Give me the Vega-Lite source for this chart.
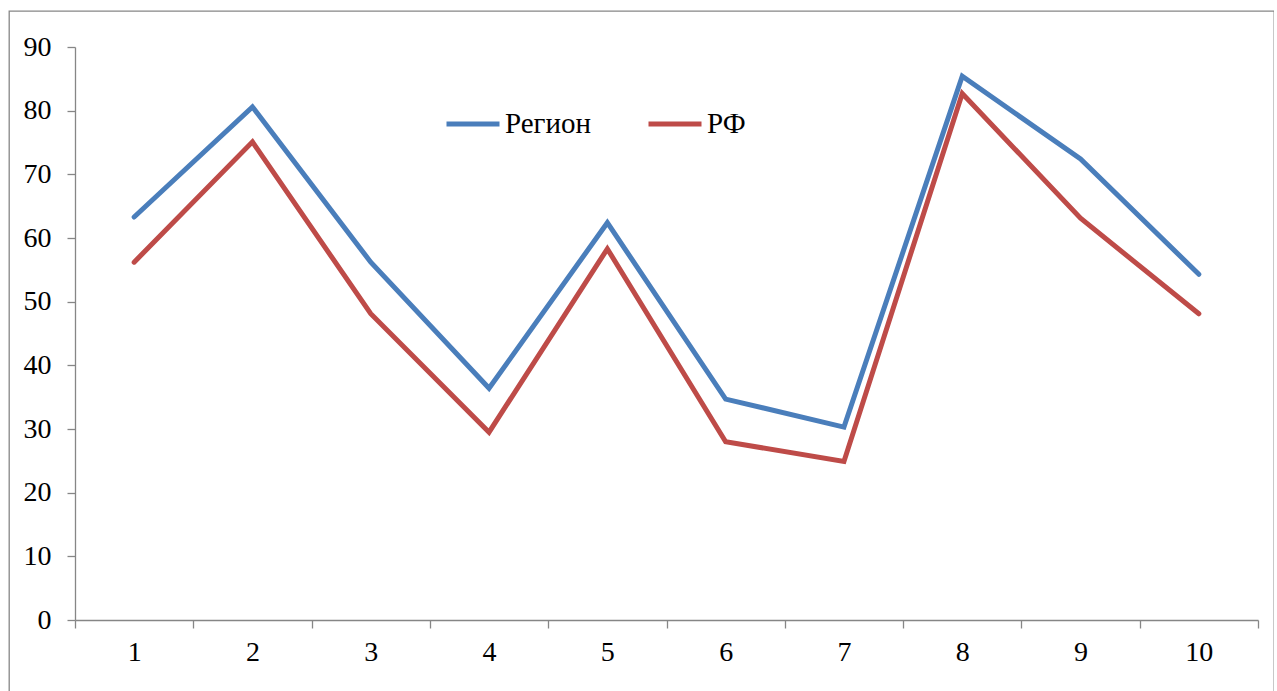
{
  "$schema": "https://vega.github.io/schema/vega-lite/v6.json",
  "autosize": "none",
  "padding": {"left": 9, "top": 11, "right": 0, "bottom": 0},
  "width": 1265,
  "height": 690,
  "background": "white",
  "config": {
    "view": {"stroke": "#868686", "strokeWidth": 1.3},
    "font": "'Liberation Serif', 'Times New Roman', 'DejaVu Serif', serif"
  },
  "data": {
    "values": [
      {"n": 1, "series": "Регион", "value": 63.3},
      {"n": 2, "series": "Регион", "value": 80.6},
      {"n": 3, "series": "Регион", "value": 56.2},
      {"n": 4, "series": "Регион", "value": 36.4},
      {"n": 5, "series": "Регион", "value": 62.4},
      {"n": 6, "series": "Регион", "value": 34.7},
      {"n": 7, "series": "Регион", "value": 30.3},
      {"n": 8, "series": "Регион", "value": 85.4},
      {"n": 9, "series": "Регион", "value": 72.4},
      {"n": 10, "series": "Регион", "value": 54.3},
      {"n": 1, "series": "РФ", "value": 56.2},
      {"n": 2, "series": "РФ", "value": 75.1},
      {"n": 3, "series": "РФ", "value": 48.1},
      {"n": 4, "series": "РФ", "value": 29.5},
      {"n": 5, "series": "РФ", "value": 58.3},
      {"n": 6, "series": "РФ", "value": 28.0},
      {"n": 7, "series": "РФ", "value": 24.9},
      {"n": 8, "series": "РФ", "value": 82.7},
      {"n": 9, "series": "РФ", "value": 63.1},
      {"n": 10, "series": "РФ", "value": 48.1}
    ]
  },
  "mark": {"type": "line", "strokeWidth": 5, "strokeCap": "round"},
  "encoding": {
    "x": {
      "field": "n",
      "type": "quantitative",
      "scale": {"domain": [0.5, 10.5], "range": [66, 1249], "nice": false, "zero": false},
      "axis": {
        "title": null,
        "orient": "bottom",
        "offset": -81,
        "values": [0.5, 1.5, 2.5, 3.5, 4.5, 5.5, 6.5, 7.5, 8.5, 9.5, 10.5],
        "labelExpr": "datum.value < 10 ? format(datum.value + 0.5, 'd') : ''",
        "labelOffset": 59.15,
        "labelFlush": false,
        "labelBound": false,
        "labelOverlap": false,
        "labelFont": "'Liberation Serif', 'Times New Roman', 'DejaVu Serif', serif",
        "labelFontSize": 28,
        "labelColor": "black",
        "labelPadding": 10,
        "tickSize": 8,
        "tickColor": "#868686",
        "tickWidth": 1.3,
        "domainColor": "#868686",
        "domainWidth": 1.3,
        "grid": false
      }
    },
    "y": {
      "field": "value",
      "type": "quantitative",
      "scale": {"domain": [0, 90], "range": [609, 36], "nice": false},
      "axis": {
        "title": null,
        "orient": "left",
        "offset": -66,
        "values": [0, 10, 20, 30, 40, 50, 60, 70, 80, 90],
        "labelFont": "'Liberation Serif', 'Times New Roman', 'DejaVu Serif', serif",
        "labelFontSize": 28,
        "labelColor": "black",
        "labelPadding": 16,
        "labelFlush": false,
        "labelBound": false,
        "labelOverlap": false,
        "tickSize": 8,
        "tickColor": "#868686",
        "tickWidth": 1.3,
        "domainColor": "#868686",
        "domainWidth": 1.3,
        "grid": false
      }
    },
    "color": {
      "field": "series",
      "type": "nominal",
      "scale": {"domain": ["Регион", "РФ"], "range": ["#4a7ebb", "#be4b48"]},
      "legend": {
        "title": null,
        "orient": "none",
        "direction": "horizontal",
        "legendX": 435,
        "legendY": 84,
        "symbolType": "stroke",
        "symbolSize": 2809,
        "symbolStrokeWidth": 5,
        "labelFont": "'Liberation Serif', 'Times New Roman', 'DejaVu Serif', serif",
        "labelFontSize": 29,
        "labelColor": "black",
        "labelOffset": 3,
        "columnPadding": 46
      }
    }
  }
}
